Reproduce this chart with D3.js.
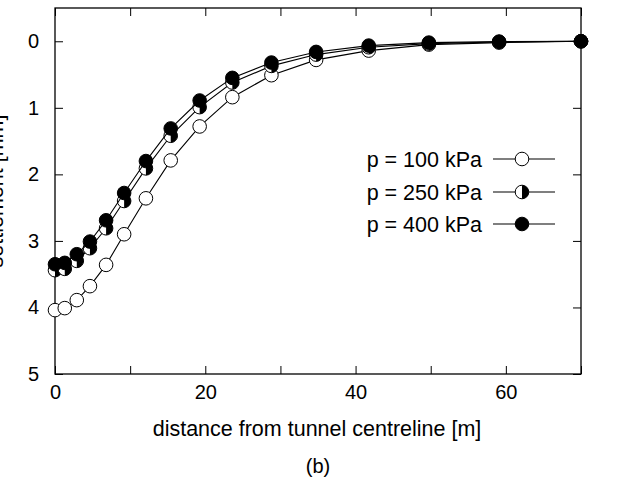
<!DOCTYPE html>
<html>
<head>
<meta charset="utf-8">
<script src="https://cdn.jsdelivr.net/npm/d3@7"></script>
<style>
  body { margin: 0; background: #fff; }
  text { font-family: "Liberation Sans", Arial, Helvetica, sans-serif; fill: #000; }
</style>
</head>
<body>
<svg id="chart" width="635" height="483"></svg>
<script>
// Distance of each surface node from the tunnel centreline [m]
const distances = [0, 1.3, 2.9, 4.65, 6.8, 9.2, 12.1, 15.4, 19.25, 23.6, 28.8, 34.75, 41.75, 49.75, 59.1, 70];

// Surface settlement [mm] for each face pressure
const settle100 = [4.04, 4.01, 3.89, 3.68, 3.36, 2.90, 2.36, 1.79, 1.28, 0.84, 0.51, 0.28, 0.14, 0.05, 0.02, 0.0];
const settle250 = [3.44, 3.42, 3.30, 3.11, 2.81, 2.40, 1.91, 1.42, 0.99, 0.62, 0.37, 0.20, 0.09, 0.035, 0.01, 0.0];
const settle400 = [3.35, 3.33, 3.20, 3.01, 2.69, 2.28, 1.80, 1.31, 0.89, 0.55, 0.32, 0.16, 0.065, 0.02, 0.005, 0.0];

const seriesLabels = ["p = 100 kPa", "p = 250 kPa", "p = 400 kPa"];
const markerKinds = ["open", "half", "filled"];

const xTickValues = [0, 10, 20, 30, 40, 50, 60, 70];
const xTickLabels = ["0", "", "20", "", "40", "", "60", ""];
const yTickValues = [0, 1, 2, 3, 4, 5];

const xTitle = "distance from tunnel centreline [m]";
const yTitle = "settlement [mm]";
const panelTag = "(b)";

const series = [settle100, settle250, settle400].map((vals, i) => ({
  label: seriesLabels[i],
  kind: markerKinds[i],
  points: distances.map((d, j) => ({ x: d, y: vals[j] }))
}));

const svg = d3.select("#chart");
const TICK_FONT = 20;
const FONT = 21.5;
const plot = { left: 55, right: 581, top: 8, bottom: 374 };

const x = d3.scaleLinear().domain([0, 70]).range([plot.left, plot.right]);
const y = d3.scaleLinear().domain([-0.5, 5]).range([plot.top, plot.bottom]);

// axes with inward ticks, mirrored on top and right
const tickLen = 8;
const xAxis = d3.axisBottom(x).tickValues(xTickValues)
  .tickFormat((d, i) => xTickLabels[i]).tickSizeInner(-tickLen).tickSizeOuter(0).tickPadding(11);
const yAxis = d3.axisLeft(y).tickValues(yTickValues)
  .tickFormat(d3.format("d")).tickSizeInner(-tickLen).tickSizeOuter(0).tickPadding(16);
const xAxisTop = d3.axisTop(x).tickValues(xTickValues).tickFormat("").tickSizeInner(-tickLen).tickSizeOuter(0);
const yAxisRight = d3.axisRight(y).tickValues(yTickValues).tickFormat("").tickSizeInner(-tickLen).tickSizeOuter(0);

function styleAxis(g) {
  g.select(".domain").remove();
  g.selectAll("line").attr("stroke", "#000").attr("stroke-width", 1);
  g.selectAll("text").attr("font-size", TICK_FONT).attr("font-family", null).attr("fill", "#000");
}

svg.append("g").attr("transform", `translate(0,${plot.bottom})`).call(xAxis).call(styleAxis);
svg.append("g").attr("transform", `translate(${plot.left},0)`).call(yAxis).call(styleAxis);
svg.append("g").attr("transform", `translate(0,${plot.top})`).call(xAxisTop).call(styleAxis);
svg.append("g").attr("transform", `translate(${plot.right},0)`).call(yAxisRight).call(styleAxis);

// plot frame
svg.append("rect")
  .attr("x", plot.left).attr("y", plot.top)
  .attr("width", plot.right - plot.left).attr("height", plot.bottom - plot.top)
  .attr("fill", "none").attr("stroke", "#000").attr("stroke-width", 1.3);

// marker drawing
const R = 6.8;
function drawMarker(g, kind, cx, cy) {
  const m = g.append("g").attr("transform", `translate(${cx},${cy})`);
  m.append("circle").attr("r", R)
    .attr("fill", kind === "filled" ? "#000" : "#fff")
    .attr("stroke", "#000").attr("stroke-width", 1);
  if (kind === "half") {
    m.append("path")
      .attr("d", `M0,${-R}A${R},${R} 0 0 1 0,${R}Z`)
      .attr("fill", "#000");
  }
}

const line = d3.line().x(d => x(d.x)).y(d => y(d.y));

series.forEach(s => {
  const g = svg.append("g");
  g.append("path").datum(s.points).attr("d", line)
    .attr("fill", "none").attr("stroke", "#000").attr("stroke-width", 1.1);
  s.points.forEach(p => drawMarker(g, s.kind, x(p.x), y(p.y)));
});

// legend
const legend = svg.append("g");
const legendRowY = [159, 192, 224];
series.forEach((s, i) => {
  const ly = legendRowY[i];
  legend.append("text").attr("x", 482).attr("y", ly).attr("dy", "0.35em")
    .attr("text-anchor", "end").attr("font-size", FONT).text(s.label);
  legend.append("line").attr("x1", 493).attr("x2", 555).attr("y1", ly).attr("y2", ly)
    .attr("stroke", "#000").attr("stroke-width", 1.1);
  drawMarker(legend, s.kind, 522, ly);
});

// titles
svg.append("text").attr("x", (plot.left + plot.right) / 2 - 1).attr("y", 436)
  .attr("text-anchor", "middle").attr("font-size", FONT).text(xTitle);
svg.append("text").attr("transform", `translate(3,${(plot.top + plot.bottom) / 2}) rotate(-90)`)
  .attr("text-anchor", "middle").attr("font-size", FONT).text(yTitle);
svg.append("text").attr("x", (plot.left + plot.right) / 2).attr("y", 473)
  .attr("text-anchor", "middle").attr("font-size", TICK_FONT).text(panelTag);
</script>
</body>
</html>
